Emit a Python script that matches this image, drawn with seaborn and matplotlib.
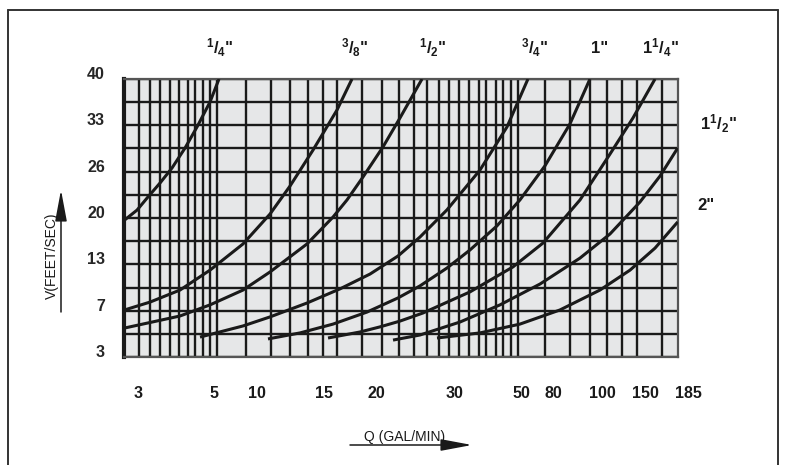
import numpy as np
import matplotlib
matplotlib.use("Agg")
import matplotlib.pyplot as plt
import matplotlib.transforms as mtransforms
from matplotlib.lines import Line2D
import seaborn as sns
import pandas as pd

# ---------------- data (chart units: Q-position 0-100, V-row 0-12) ----------------
GRID_X = [2.6, 4.6, 6.4, 8.2, 9.9, 11.4, 12.8, 14.2, 15.5, 16.8, 22.0, 26.4, 29.9,
          33.1, 35.9, 38.5, 43.0, 46.6, 49.6, 52.3, 54.6, 56.8, 58.7, 60.5, 62.3,
          64.0, 65.4, 67.2, 68.5, 69.8, 71.1, 76.1, 80.5, 84.2, 87.3, 90.0, 92.6, 97.1]
GRID_Y = list(range(0, 13))

Q_LABELS = ["3", "5", "10", "15", "20", "30", "50", "80", "100", "150", "185"]
Q_LABEL_POS = [2.4, 16.2, 24.0, 36.1, 45.5, 59.6, 71.7, 77.6, 86.3, 94.1, 102.0]

V_LABELS = ["3", "7", "13", "20", "26", "33", "40"]
V_LABEL_POS = [0, 2, 4, 6, 8, 10, 12]

SIZES = ["1/4", "3/8", "1/2", "3/4", "1", "1 1/4", "1 1/2", "2"]

q_quarter = [0, 2.26, 4.25, 6.42, 8.59, 10.94, 13.11, 15.46, 17.08]
v_quarter = [5.91, 6.34, 6.91, 7.51, 8.16, 9.02, 9.93, 11.01, 12.0]

q_3eighth = [0, 4.61, 10.03, 15.46, 21.42, 26.30, 29.92, 34.07, 38.41, 41.12]
v_3eighth = [2.03, 2.37, 2.89, 3.75, 4.88, 6.17, 7.38, 8.93, 10.66, 12.0]

q_half = [0, 10.03, 15.46, 21.42, 26.30, 32.99, 37.69, 40.22, 43.11, 46.73, 49.80, 53.78]
v_half = [1.25, 1.77, 2.25, 2.89, 3.67, 4.88, 6.04, 6.78, 7.77, 9.07, 10.32, 12.0]

q_3quarter = [13.65, 21.42, 26.30, 32.99, 38.95, 44.38, 49.44, 53.42, 58.29, 64.26, 69.14, 72.93]
v_3quarter = [0.86, 1.34, 1.73, 2.33, 2.94, 3.58, 4.36, 5.18, 6.35, 8.07, 9.93, 12.0]

q_one = [25.94, 31.74, 37.69, 43.84, 49.44, 53.42, 58.29, 62.45, 67.33, 71.48, 76.00, 80.52, 84.14]
v_one = [0.78, 1.04, 1.42, 1.94, 2.55, 3.07, 3.84, 4.62, 5.66, 6.78, 8.25, 10.06, 12.0]

q_one_q = [36.79, 42.57, 46.18, 49.80, 53.96, 62.45, 70.23, 75.65, 82.34, 87.76, 91.92, 95.90]
v_one_q = [0.82, 1.08, 1.30, 1.55, 1.90, 2.81, 3.89, 4.92, 6.78, 8.76, 10.32, 12.0]

q_one_h = [48.54, 53.42, 60.65, 67.88, 75.11, 82.34, 87.76, 93.18, 96.80, 100]
v_one_h = [0.73, 0.95, 1.51, 2.25, 3.15, 4.27, 5.31, 6.69, 7.81, 9.02]

q_two = [56.49, 64.26, 71.48, 78.71, 85.95, 91.38, 95.90, 100]
v_two = [0.82, 1.04, 1.42, 2.03, 2.89, 3.75, 4.70, 5.83]

CURVES_Q = [q_quarter, q_3eighth, q_half, q_3quarter, q_one, q_one_q, q_one_h, q_two]
CURVES_V = [v_quarter, v_3eighth, v_half, v_3quarter, v_one, v_one_q, v_one_h, v_two]

TOP_LABELS = [r'${}^{1}/{}_{4}$"', r'${}^{3}/{}_{8}$"', r'${}^{1}/{}_{2}$"',
              r'${}^{3}/{}_{4}$"', '1"', r'1${}^{1}/{}_{4}$"']
TOP_LABEL_POS = [17.3, 41.7, 55.8, 74.2, 85.9, 96.8]
SIDE_LABELS = [r'1${}^{1}/{}_{2}$"', '2"']
SIDE_LABEL_POS = [(107.3, 10.06), (105.1, 6.56)]

# ---------------- build frame ----------------
rows = []
for name, qs, vs in zip(SIZES, CURVES_Q, CURVES_V):
    for q, v in zip(qs, vs):
        rows.append({"size": name, "q": q, "v": v})
df = pd.DataFrame(rows)

sns.set_theme(style="white")
plt.rcParams["font.family"] = ["Liberation Sans", "DejaVu Sans"]
plt.rcParams["mathtext.fontset"] = "custom"
plt.rcParams["mathtext.rm"] = "Liberation Sans:bold"
plt.rcParams["mathtext.bf"] = "Liberation Sans:bold"
plt.rcParams["mathtext.it"] = "Liberation Sans:bold"

W, H = 786, 465
fig = plt.figure(figsize=(W / 100, H / 100), dpi=100)
fig.patch.set_facecolor("white")
ax = fig.add_axes([124.5 / W, (H - 357) / H, (677.7 - 124.5) / W, (357 - 79) / H])
ax.set_facecolor("#e6e7e8")

sns.lineplot(data=df, x="q", y="v", hue="size", palette=["#1a1a1a"] * len(SIZES),
             estimator=None, sort=False, legend=False, linewidth=2.2, ax=ax, zorder=3)
for ln in ax.lines:
    ln.set_solid_joinstyle("round")
    ln.set_solid_capstyle("butt")

ax.set_xlim(0, 100)
ax.set_ylim(0, 12)
ax.set_xticks([])
ax.set_xticks(GRID_X, minor=True)
ax.set_yticks(V_LABEL_POS)
ax.set_yticklabels(V_LABELS, fontsize=11.5, fontweight="bold", va="baseline")
ax.set_yticks(GRID_Y, minor=True)
ax.tick_params(axis="both", which="both", length=0)
ax.tick_params(axis="y", pad=14)
ax.xaxis.grid(True, which="minor", color="#1a1a1a", linewidth=1.7)
ax.yaxis.grid(True, which="both", color="#1a1a1a", linewidth=1.7)
ax.set_axisbelow(True)
ax.set_xlabel("")
ax.set_ylabel("")

for s in ["top", "right", "bottom"]:
    ax.spines[s].set_color("#555555")
    ax.spines[s].set_linewidth(1.6)
ax.spines["left"].set_color("#1a1a1a")
ax.spines["left"].set_linewidth(3.0)

trans_x = mtransforms.blended_transform_factory(ax.transData, ax.transAxes)
for lab, pos in zip(Q_LABELS, Q_LABEL_POS):
    ax.text(pos, -0.133, lab, transform=trans_x, ha="center", va="center",
            fontsize=11.5, fontweight="bold", color="#1a1a1a", clip_on=False)

for lab, pos in zip(TOP_LABELS, TOP_LABEL_POS):
    ax.text(pos, 1.111, lab, transform=trans_x, ha="center", va="center",
            fontsize=12, fontweight="bold", color="#1a1a1a", clip_on=False)
for lab, (px, py) in zip(SIDE_LABELS, SIDE_LABEL_POS):
    ax.text(px, py, lab, ha="center", va="center", fontsize=12,
            fontweight="bold", color="#1a1a1a", clip_on=False)

# axis titles with arrows
fig.text(52 / W, (H - 256) / H, "V(FEET/SEC)", rotation=90, ha="center", va="center",
         fontsize=10, color="#1a1a1a")
fig.text(405 / W, (H - 437) / H, "Q (GAL/MIN)", ha="center", va="center",
         fontsize=10, color="#1a1a1a")
arrow = dict(arrowstyle="-|>,head_length=1.6,head_width=0.3", color="#1a1a1a",
             lw=1.1, shrinkA=0, shrinkB=0)
fig.add_artist(matplotlib.text.Annotation("", xy=(61, H - 190), xytext=(61, H - 312),
               xycoords="figure pixels", textcoords="figure pixels", arrowprops=arrow))
fig.add_artist(matplotlib.text.Annotation("", xy=(472, H - 445), xytext=(350, H - 445),
               xycoords="figure pixels", textcoords="figure pixels", arrowprops=arrow))

# outer border
for xs, ys in [([8, 8], [0, H - 10]), ([8, 778], [H - 10, H - 10]), ([778, 778], [0, H - 10])]:
    fig.add_artist(Line2D([x / W for x in xs], [y / H for y in ys], transform=fig.transFigure,
                          color="#333333", linewidth=1.4))

fig.savefig("out.png", dpi=100)
